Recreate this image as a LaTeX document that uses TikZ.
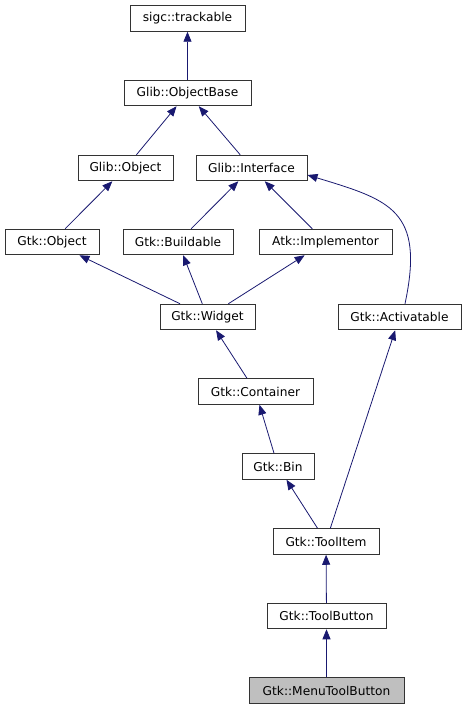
\documentclass[tikz,border=0pt]{standalone}
\usepackage{fontspec}
\setmainfont{DejaVu Sans}
\usetikzlibrary{arrows.meta}
\definecolor{midnightblue}{HTML}{191970}
\definecolor{boxgray}{HTML}{BFBFBF}
\begin{document}
\begin{tikzpicture}[x=1pt, y=-1pt,
		cls/.style={rectangle, draw=black!80, line width=1pt, fill=white, minimum height=25.5pt, inner sep=0pt, font=\fontsize{12.2}{14}\selectfont},
		inherit/.style={-{Triangle[length=10pt, width=8pt]}, draw=midnightblue, line width=0.8pt}]
		\useasboundingbox (0,0) rectangle (467,709);

		\node[cls, minimum width=115pt](trackable) at (187.5,18.5){sigc::trackable};
		\node[cls, minimum width=127pt](objectBase) at (187.5,93){Glib::ObjectBase};
		\node[cls, minimum width=95pt](glibObject) at (125.5,168){Glib::Object};
		\node[cls, minimum width=111pt](glibInterface) at (251.5,168){Glib::Interface};
		\node[cls, minimum width=94pt](gtkObject) at (52,242){Gtk::Object};
		\node[cls, minimum width=110pt](buildable) at (178,242){Gtk::Buildable};
		\node[cls, minimum width=133pt](implementor) at (325.5,242){Atk::Implementor};
		\node[cls, minimum width=95pt](widget) at (207.5,317){Gtk::Widget};
		\node[cls, minimum width=123pt](activatable) at (399.5,317){Gtk::Activatable};
		\node[cls, minimum width=115pt](container) at (255.5,391.5){Gtk::Container};
		\node[cls, minimum width=72pt](bin) at (278,466.5){Gtk::Bin};
		\node[cls, minimum width=106pt](toolItem) at (326,541.5){Gtk::ToolItem};
		\node[cls, minimum width=119pt](toolButton) at (326.5,616){Gtk::ToolButton};
		\node[cls, minimum width=155pt, fill=boxgray](menuToolButton) at (326.5,690.5){Gtk::MenuToolButton};

		% draw glib edges
		\draw[inherit] (objectBase) -- (trackable);
		\draw[inherit] (glibObject) -- (objectBase);
		\draw[inherit] (glibInterface) -- (objectBase);
		\draw[inherit] (gtkObject) -- (glibObject);
		\draw[inherit] (buildable) -- (glibInterface);
		\draw[inherit] (implementor) -- (glibInterface);
		\draw[inherit] (activatable.north -| 405,0) .. controls (425,210) and (390,200) .. (glibInterface.east |- 0,175);

		% draw widget edges
		\draw[inherit] (widget) -- (gtkObject);
		\draw[inherit] (widget) -- (buildable);
		\draw[inherit] (widget) -- (implementor);
		\draw[inherit] (container) -- (widget);
		\draw[inherit] (bin) -- (container);

		% draw tool edges
		\draw[inherit] (toolItem) -- (bin);
		\draw[inherit] (toolItem) -- (activatable);
		\draw[inherit] (toolButton) -- (toolItem);
		\draw[inherit] (menuToolButton) -- (toolButton);

	\end{tikzpicture}
\end{document}
